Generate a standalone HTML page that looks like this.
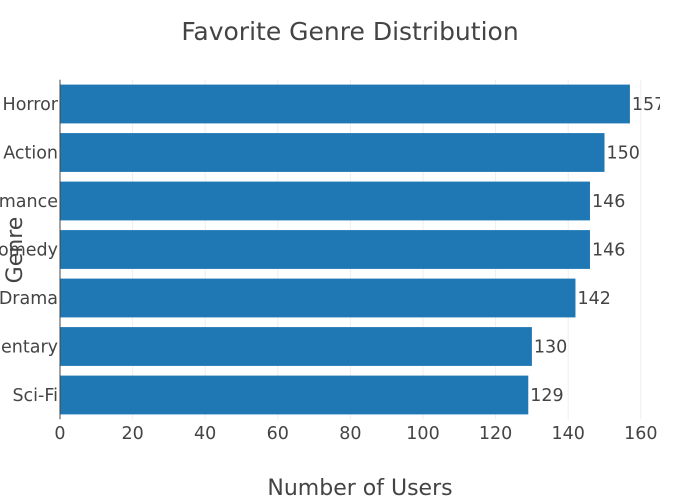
<!DOCTYPE html>
<html><head><meta charset="utf-8"><style>
html,body{margin:0;padding:0;background:#fff;}
svg{display:block;font-family:"DejaVu Sans","Liberation Sans",sans-serif;}
</style></head><body>
<svg id="chart" width="700" height="500">
<defs><clipPath id="pc"><rect x="60" y="75" width="600" height="350"/></clipPath><clipPath id="lc"><rect x="0" y="75" width="60" height="350"/></clipPath></defs>
<text x="350" y="40" text-anchor="middle" font-size="25" fill="#444">Favorite Genre Distribution</text>
<g id="grid"></g><g id="bars" clip-path="url(#pc)"></g><g id="ylabels" clip-path="url(#lc)"></g><g id="xticks"></g>
<line x1="60" y1="79.75" x2="60" y2="419.25" stroke="#444" stroke-width="1"/>
<text x="360" y="495" text-anchor="middle" font-size="22" fill="#444">Number of Users</text>
<text x="0" y="0" transform="translate(22,250) rotate(-90)" text-anchor="middle" font-size="22" fill="#444">Genre</text>
</svg>
<script>
const categories=["Horror","Action","Romance","Comedy","Drama","Documentary","Sci-Fi"];
const values=[157,150,146,146,142,130,129];
const xTicks=[0,20,40,60,80,100,120,140,160];
const NS="http://www.w3.org/2000/svg";
const x0=60,xScale=3.63,yTop=79.75,band=48.5;
const xs=v=>x0+v*xScale;
const yc=i=>yTop+band*(i+0.5);
function mk(t,a,p){const e=document.createElementNS(NS,t);for(const k in a)e.setAttribute(k,a[k]);p.appendChild(e);return e;}
const grid=document.getElementById('grid'),bars=document.getElementById('bars'),yl=document.getElementById('ylabels'),xt=document.getElementById('xticks');
xTicks.forEach(v=>{
 if(v>0){const g=mk('line',{x1:xs(v),x2:xs(v),y1:yTop,y2:yTop+band*categories.length,stroke:'#eee','stroke-width':1},grid);
 
 }
 const t=mk('text',{x:xs(v),y:439,'text-anchor':'middle','font-size':17.5,fill:'#444'},xt);t.textContent=v;
 
 
});
categories.forEach((c,i)=>{
 const h=band*0.8;
 const r=mk('rect',{x:x0,y:yc(i)-h/2,width:xs(values[i])-x0,height:h,fill:'#1f77b4'},bars);
 
 
 const v=mk('text',{x:xs(values[i])+2,y:yc(i)+6,'font-size':17.5,fill:'#444'},bars);v.textContent=values[i];
 
 
 const l=mk('text',{x:58,y:yc(i)+6,'text-anchor':'end','font-size':17.5,fill:'#444'},yl);l.textContent=c;
 
 
});
</script>
</body></html>
